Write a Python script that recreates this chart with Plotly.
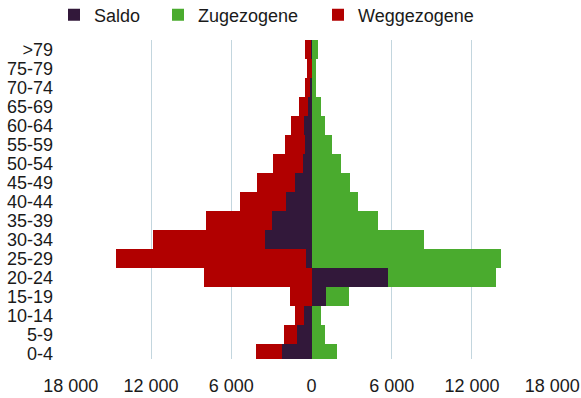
import plotly.graph_objects as go

categories = ["0-4", "5-9", "10-14", "15-19", "20-24", "25-29", "30-34", "35-39",
              "40-44", "45-49", "50-54", "55-59", "60-64", "65-69", "70-74", "75-79", ">79"]
zugezogene = [1930, 1000, 690, 2800, 13770, 14190, 8380, 4960,
              3470, 2870, 2200, 1500, 1010, 720, 340, 320, 500]
weggezogene = [-4140, -2080, -1210, -1630, -8040, -14590, -11840, -7920,
               -5310, -4070, -2860, -1990, -1540, -920, -480, -320, -490]
saldo = [-2230, -1100, -540, 1100, 5720, -420, -3470, -2980,
         -1880, -1220, -670, -520, -550, -230, -140, 0, 10]

tick_vals = [-18000, -12000, -6000, 0, 6000, 12000, 18000]
tick_text = ["18 000", "12 000", "6 000", "0", "6 000", "12 000", "18 000"]

C_SALDO = "#32183a"
C_ZUG = "#4aab2e"
C_WEG = "#b10000"
FONT = "Liberation Sans, Arial, sans-serif"
FS = 18

fig = go.Figure()
fig.add_trace(go.Bar(y=categories, x=zugezogene, orientation="h", name="Zugezogene",
                     marker=dict(color=C_ZUG, line=dict(width=0)), legend="legend2",
                     showlegend=True))
fig.add_trace(go.Bar(y=categories, x=weggezogene, orientation="h", name="Weggezogene",
                     marker=dict(color=C_WEG, line=dict(width=0)), legend="legend3",
                     showlegend=True))
fig.add_trace(go.Bar(y=categories, x=saldo, orientation="h", name="Saldo",
                     marker=dict(color=C_SALDO, line=dict(width=0)), legend="legend",
                     showlegend=True))

leg_common = dict(orientation="h", xref="container", yref="container",
                  yanchor="middle", xanchor="left", bgcolor="rgba(0,0,0,0)",
                  font=dict(family=FONT, size=FS, color="#1a1a1a"))
fig.update_layout(
    width=581, height=398,
    margin=dict(l=70, r=28, t=40, b=39, autoexpand=False),
    paper_bgcolor="white", plot_bgcolor="white",
    barmode="overlay", bargap=0, showlegend=True,
    font=dict(family=FONT, size=FS, color="#1a1a1a"),
    legend=dict(x=54 / 581, y=1 - 15 / 398, **leg_common),
    legend2=dict(x=158 / 581, y=1 - 15 / 398, **leg_common),
    legend3=dict(x=318 / 581, y=1 - 15 / 398, **leg_common),
)
fig.update_xaxes(range=[-18060, 18060], tickmode="array", tickvals=tick_vals, ticktext=tick_text,
                 showgrid=True, gridcolor="#c3d6de", gridwidth=1.2,
                 zeroline=True, zerolinecolor="#8c8c8c", zerolinewidth=2,
                 showline=False, ticks="", ticklabelstandoff=14,
                 tickfont=dict(family=FONT, size=FS, color="#1a1a1a"))
fig.update_yaxes(type="category", categoryorder="array", categoryarray=categories,
                 tickmode="array", tickvals=categories, ticktext=categories,
                 range=[-0.3, 16.5], showgrid=False, zeroline=False, showline=False,
                 ticks="", ticklabelstandoff=16,
                 tickfont=dict(family=FONT, size=FS, color="#1a1a1a"))

fig.write_html("out.html", config={"displayModeBar": False},
               post_script="document.body.style.margin='0';document.body.style.padding='0';")
